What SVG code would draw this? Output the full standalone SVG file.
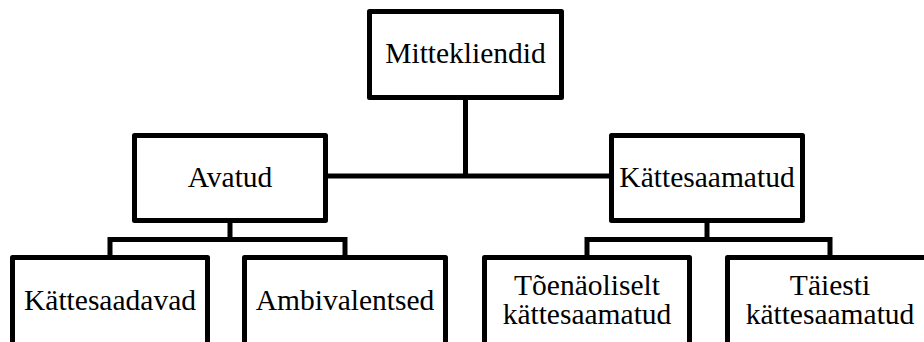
<svg xmlns="http://www.w3.org/2000/svg" width="924" height="342" viewBox="0 0 924 342">
<style>
.box{fill:#fff;stroke:#000;stroke-width:5;stroke-linejoin:round}
.ln{fill:none;stroke:#000;stroke-width:5}
text{font-family:"Liberation Serif","Times New Roman",serif;font-size:29.5px;fill:#000;text-anchor:middle}
</style>
<rect width="924" height="342" fill="#fff"/>
<g id="connectors">
<line class="ln" x1="465.5" y1="97" x2="465.5" y2="176"/>
<line class="ln" x1="325.5" y1="176" x2="611.5" y2="176"/>
<polyline class="ln" points="110,257.5 110,239.5 345,239.5 345,257.5"/>
<line class="ln" x1="230" y1="220.5" x2="230" y2="239.5"/>
<polyline class="ln" points="587,257.5 587,239.5 830,239.5 830,257.5"/>
<line class="ln" x1="707" y1="220.5" x2="707" y2="239.5"/>
</g>
<g id="n-mittekliendid">
<rect class="box" x="369.5" y="11.5" width="192" height="86"/>
<text x="465.5" y="63">Mittekliendid</text>
</g>
<g id="n-avatud">
<rect class="box" x="134.5" y="135.5" width="191" height="85"/>
<text x="230" y="187">Avatud</text>
</g>
<g id="n-kattesaamatud">
<rect class="box" x="611.5" y="135.5" width="191" height="85"/>
<text x="707" y="187">Kättesaamatud</text>
</g>
<g id="n-kattesaadavad">
<rect class="box" x="12.5" y="257.5" width="195" height="100"/>
<text x="110" y="310">Kättesaadavad</text>
</g>
<g id="n-ambivalentsed">
<rect class="box" x="244.5" y="257.5" width="201" height="100"/>
<text x="345" y="310">Ambivalentsed</text>
</g>
<g id="n-toenaoliselt">
<rect class="box" x="484.5" y="257.5" width="205" height="100"/>
<text x="587" y="295">Tõenäoliselt</text>
<text x="587" y="324">kättesaamatud</text>
</g>
<g id="n-taiesti">
<rect class="box" x="727.5" y="257.5" width="205" height="100"/>
<text x="830" y="295">Täiesti</text>
<text x="830" y="324">kättesaamatud</text>
</g>
</svg>
